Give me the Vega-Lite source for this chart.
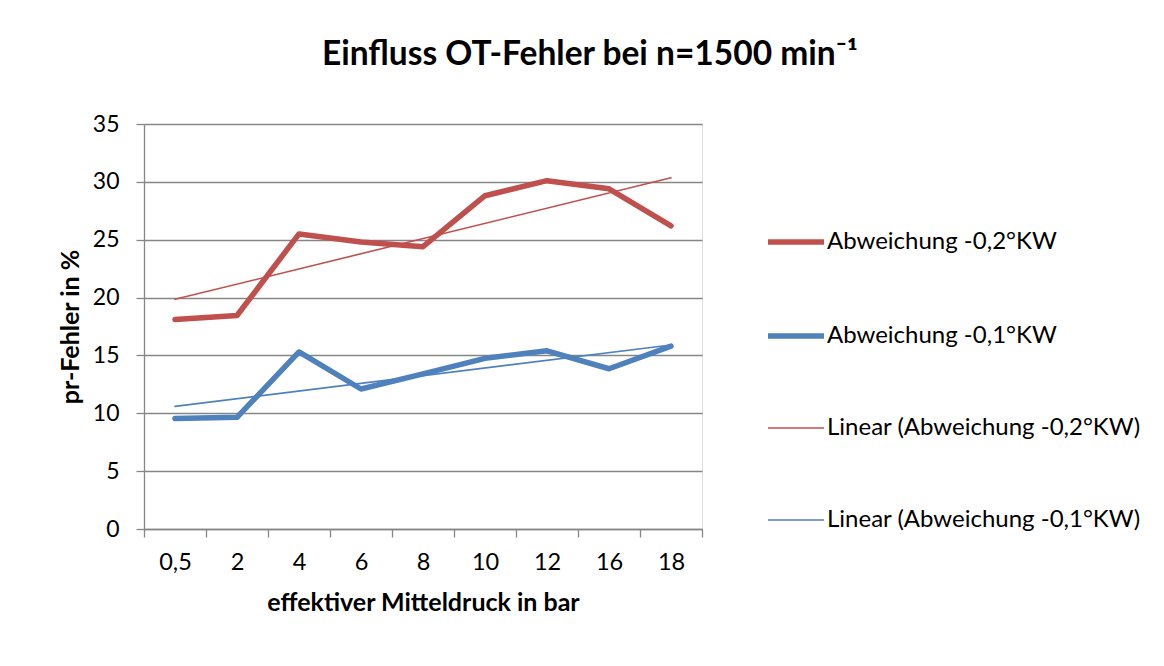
{
  "$schema": "https://vega.github.io/schema/vega-lite/v6.json",
  "width": 558,
  "height": 405,
  "autosize": {"type": "none"},
  "padding": {"left": 144, "top": 124, "right": 462, "bottom": 137},
  "background": "white",
  "title": {
    "text": "Einfluss OT-Fehler bei n=1500 min⁻¹",
    "font": "Lato",
    "fontSize": 33.5,
    "fontWeight": "bold",
    "color": "black",
    "anchor": "middle",
    "frame": "group",
    "dx": 167,
    "offset": 41
  },
  "data": {
    "values": [
      {"p": 0.5, "s": "Abweichung -0,2°KW", "v": 18.1},
      {"p": 2, "s": "Abweichung -0,2°KW", "v": 18.45},
      {"p": 4, "s": "Abweichung -0,2°KW", "v": 25.5},
      {"p": 6, "s": "Abweichung -0,2°KW", "v": 24.8},
      {"p": 8, "s": "Abweichung -0,2°KW", "v": 24.4},
      {"p": 10, "s": "Abweichung -0,2°KW", "v": 28.8},
      {"p": 12, "s": "Abweichung -0,2°KW", "v": 30.1},
      {"p": 16, "s": "Abweichung -0,2°KW", "v": 29.4},
      {"p": 18, "s": "Abweichung -0,2°KW", "v": 26.2},
      {"p": 0.5, "s": "Abweichung -0,1°KW", "v": 9.55},
      {"p": 2, "s": "Abweichung -0,1°KW", "v": 9.65},
      {"p": 4, "s": "Abweichung -0,1°KW", "v": 15.3},
      {"p": 6, "s": "Abweichung -0,1°KW", "v": 12.1},
      {"p": 8, "s": "Abweichung -0,1°KW", "v": 13.4},
      {"p": 10, "s": "Abweichung -0,1°KW", "v": 14.75},
      {"p": 12, "s": "Abweichung -0,1°KW", "v": 15.4},
      {"p": 16, "s": "Abweichung -0,1°KW", "v": 13.85},
      {"p": 18, "s": "Abweichung -0,1°KW", "v": 15.8},
      {"p": 0.5, "s": "Linear (Abweichung -0,2°KW)", "v": 19.85},
      {"p": 18, "s": "Linear (Abweichung -0,2°KW)", "v": 30.35},
      {"p": 0.5, "s": "Linear (Abweichung -0,1°KW)", "v": 10.6},
      {"p": 18, "s": "Linear (Abweichung -0,1°KW)", "v": 15.9}
    ]
  },
  "mark": {"type": "line", "strokeCap": "round", "strokeJoin": "round"},
  "encoding": {
    "x": {
      "field": "p",
      "type": "ordinal",
      "bandPosition": 0.5,
      "scale": {"type": "band", "paddingInner": 0, "paddingOuter": 0},
      "axis": {
        "title": "effektiver Mitteldruck in bar",
        "labelAngle": 0,
        "tickBand": "extent",
        "labelExpr": "replace(datum.label, '.', ',')",
        "grid": false,
        "domainColor": "#868686",
        "domainWidth": 1.3,
        "tickColor": "#868686",
        "tickWidth": 1.3,
        "tickSize": 8,
        "labelPadding": 13,
        "labelFont": "Lato",
        "labelFontSize": 23.5,
        "labelColor": "black",
        "titleFont": "Lato",
        "titleFontSize": 25,
        "titleFontWeight": "bold",
        "titleColor": "black",
        "titlePadding": 17
      }
    },
    "y": {
      "field": "v",
      "type": "quantitative",
      "scale": {"domain": [0, 35], "nice": false},
      "axis": {
        "title": "pr-Fehler in %",
        "values": [0, 5, 10, 15, 20, 25, 30, 35],
        "grid": true,
        "gridColor": "#868686",
        "gridWidth": 1.3,
        "domainColor": "#868686",
        "domainWidth": 1.3,
        "tickColor": "#868686",
        "tickWidth": 1.3,
        "tickSize": 8,
        "labelPadding": 17,
        "labelFont": "Lato",
        "labelFontSize": 23,
        "labelColor": "black",
        "titleFont": "Lato",
        "titleFontSize": 25,
        "titleFontWeight": "bold",
        "titleColor": "black",
        "titlePadding": 9
      }
    },
    "color": {
      "field": "s",
      "type": "nominal",
      "scale": {
        "domain": ["Abweichung -0,2°KW", "Abweichung -0,1°KW", "Linear (Abweichung -0,2°KW)", "Linear (Abweichung -0,1°KW)"],
        "range": ["#C0504D", "#4F81BD", "#C0504D", "#4F81BD"]
      },
      "legend": {
        "title": null,
        "orient": "none",
        "legendX": 621,
        "legendY": 87,
        "padding": 0,
        "symbolType": "stroke",
        "symbolSize": 3136,
        "labelOffset": 0,
        "rowPadding": 51,
        "labelFont": "Lato",
        "labelFontSize": 24,
        "labelColor": "black",
        "labelLimit": 400
      }
    },
    "strokeWidth": {
      "field": "s",
      "type": "nominal",
      "scale": {
        "type": "ordinal",
        "domain": ["Abweichung -0,2°KW", "Abweichung -0,1°KW", "Linear (Abweichung -0,2°KW)", "Linear (Abweichung -0,1°KW)"],
        "range": [5.5, 5.5, 1.6, 1.6]
      },
      "legend": null
    }
  }
}
